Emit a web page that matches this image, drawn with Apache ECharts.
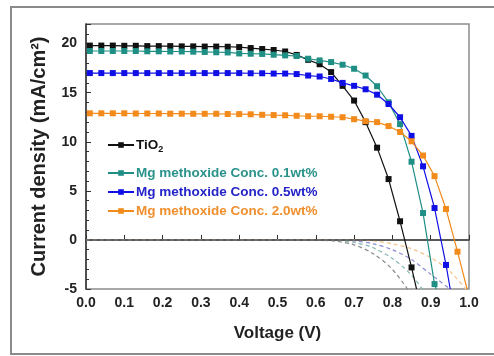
<!DOCTYPE html>
<html>
<head>
<meta charset="utf-8">
<script src="https://cdn.jsdelivr.net/npm/echarts@6/dist/echarts.min.js"></script>
<style>
    html, body {margin: 0; padding: 0; background: #fff;}
    #ivChart {width: 494px; height: 356px;}
</style>
</head>
<body>
<div id="ivChart"></div>
<script>
// voltage steps of the marked points (V)
var volts = [0.01, 0.04, 0.07, 0.10, 0.13, 0.16, 0.19, 0.22, 0.25, 0.28, 0.31, 0.34, 0.37, 0.40, 0.43,
    0.46, 0.49, 0.52, 0.55, 0.58, 0.61, 0.64, 0.67, 0.70, 0.73, 0.76, 0.79, 0.82, 0.85, 0.88, 0.91, 0.94, 0.97];

// light current density (mA/cm2) read at those voltages
var tio2 = [19.8, 19.8, 19.8, 19.78, 19.78, 19.75, 19.75, 19.75, 19.72, 19.72, 19.7, 19.7, 19.68, 19.65, 19.55,
    19.45, 19.35, 19.2, 18.85, 18.35, 17.9, 17.1, 15.7, 14.2, 12.0, 9.4, 6.2, 1.9, -2.8];
var mg01 = [19.25, 19.25, 19.25, 19.25, 19.25, 19.22, 19.22, 19.2, 19.2, 19.18, 19.15, 19.12, 19.1, 19.0, 18.97,
    18.95, 18.87, 18.8, 18.74, 18.46, 18.29, 18.12, 17.85, 17.44, 16.75, 15.66, 14.02, 11.8, 7.97, 2.74, -4.5];
var mg05 = [17.0, 17.0, 17.0, 17.0, 17.0, 17.0, 17.0, 17.0, 17.0, 17.0, 17.0, 17.0, 17.0, 17.0, 16.98,
    16.98, 16.95, 16.95, 16.9, 16.75, 16.65, 16.4, 16.0, 15.7, 15.35, 14.8, 13.85, 12.5, 10.6, 7.5, 3.25, -2.55];
var mg20 = [12.9, 12.9, 12.9, 12.9, 12.88, 12.88, 12.88, 12.86, 12.86, 12.85, 12.85, 12.85, 12.83, 12.82, 12.8,
    12.75, 12.72, 12.7, 12.65, 12.6, 12.6, 12.55, 12.5, 12.3, 12.1, 12.0, 11.6, 11.0, 10.05, 8.6, 6.5, 3.15, -1.2];
// where each curve leaves the plot at the bottom
var endPts = [[0.863, -5], [0.914, -5], [0.951, -5], [0.995, -5]];

// dark curves (dashed)
var darkV = [0.0, 0.55, 0.60, 0.65, 0.70, 0.75, 0.80, 0.85, 0.90, 0.95, 1.0];
var darkTio2 = [0, 0, -0.02, -0.12, -0.5, -1.4, -3.0, -5.6];
var darkMg01 = [0, 0, 0, -0.05, -0.25, -0.8, -1.9, -3.6, -6.2];
var darkMg05 = [0, 0, 0, 0, -0.1, -0.4, -1.0, -2.0, -3.5, -5.0];
var darkMg20 = [0, 0, 0, 0, 0, -0.1, -0.4, -0.9, -1.8, -3.2, -5.4];

var names = ['TiO2', 'Mg methoxide Conc. 0.1wt%', 'Mg methoxide Conc. 0.5wt%', 'Mg methoxide Conc. 2.0wt%'];
var colors = ['#111111', '#1f8f86', '#1010e6', '#f38a1c'];
var textColors = ['#111111', '#2a928a', '#2424c8', '#ef8f2e'];
var darkColors = ['#8a8a8a', '#86b7b2', '#8c8cd2', '#f3c48c'];
var legendTops = [140, 168, 187, 206];

function pairs(xs, ys, end) {
    var out = [];
    for (var i = 0; i < ys.length; i++) {
        out.push([xs[i], ys[i]]);
    }
    if (end) {
        out.push({value: end, symbol: 'none'});
    }
    return out;
}

var lightSets = [tio2, mg01, mg05, mg20];
var darkSets = [darkTio2, darkMg01, darkMg05, darkMg20];
var series = [];
var legends = [];

for (var k = 0; k < 4; k++) {
    series.push({
        name: names[k],
        type: 'line',
        data: pairs(volts, lightSets[k], endPts[k]),
        symbol: 'rect',
        symbolSize: 6,
        showAllSymbol: true,
        z: 5 + k,
        color: colors[k],
        lineStyle: {width: 1.2, color: colors[k]},
        itemStyle: {color: colors[k]}
    });
    series.push({
        name: 'dark' + k,
        type: 'line',
        data: pairs(darkV, darkSets[k]),
        symbol: 'none',
        smooth: 0.3,
        z: 2,
        lineStyle: {width: 1.2, type: [4, 3], color: darkColors[k]}
    });
    legends.push({
        left: 102,
        top: legendTops[k] - 7,
        itemWidth: 26,
        itemHeight: 7,
        itemGap: 0,
        selectedMode: false,
        data: [{name: names[k], textStyle: {color: textColors[k]}}],
        formatter: function (name) {
            return name === 'TiO2' ? 'TiO{s|2}' : name;
        },
        textStyle: {
            fontFamily: 'Liberation Sans',
            fontWeight: 'bold',
            fontSize: 13.5,
            padding: [0, 0, 0, -3],
            rich: {
                s: {fontSize: 9, fontWeight: 'bold', color: '#111', padding: [9, 0, 0, 0]}
            }
        }
    });
}

// zero line
series.push({
    name: 'zero',
    type: 'line',
    data: [],
    silent: true,
    markLine: {
        symbol: 'none',
        silent: true,
        label: {show: false},
        lineStyle: {color: '#555', width: 1.5, type: 'solid'},
        data: [{yAxis: 0}]
    }
});

var ivChart = echarts.init(document.getElementById('ivChart'), null, {renderer: 'canvas'});
var option = {
    animation: false,
    backgroundColor: '#fff',
    graphic: [{
        type: 'rect',
        shape: {x: 11, y: 7, width: 500, height: 347},
        style: {fill: 'none', stroke: '#8a8a8a', lineWidth: 2},
        silent: true
    }],
    legend: legends,
    grid: {
        left: 86,
        top: 24,
        right: 25,
        bottom: 67,
        show: true,
        borderColor: '#8c8c8c',
        borderWidth: 1.5
    },
    xAxis: {
        type: 'value',
        min: 0,
        max: 1,
        interval: 0.1,
        name: 'Voltage (V)',
        nameLocation: 'middle',
        nameGap: 36,
        nameTextStyle: {fontFamily: 'Liberation Sans', fontWeight: 'bold', fontSize: 17, color: '#222'},
        axisLine: {lineStyle: {color: '#333', width: 1.5}},
        axisTick: {inside: true, length: 5, lineStyle: {color: '#333'}},
        splitLine: {show: false},
        axisLabel: {
            fontFamily: 'Liberation Sans',
            fontWeight: 'bold',
            fontSize: 14,
            color: '#222',
            margin: 7,
            formatter: function (v) {
                return v.toFixed(1);
            }
        }
    },
    yAxis: {
        type: 'value',
        min: -5,
        max: 22,
        interval: 5,
        name: 'Current density (mA/cm²)',
        nameLocation: 'middle',
        nameGap: 37,
        nameTextStyle: {fontFamily: 'Liberation Sans', fontWeight: 'bold', fontSize: 20, color: '#222'},
        axisLine: {show: true, lineStyle: {color: '#333', width: 1.5}},
        axisTick: {inside: true, length: 5, lineStyle: {color: '#333'}},
        minorTick: {show: true, splitNumber: 5, length: 3, lineStyle: {color: '#333'}},
        splitLine: {show: false},
        axisLabel: {
            fontFamily: 'Liberation Sans',
            fontWeight: 'bold',
            fontSize: 14,
            color: '#222',
            margin: 9,
            showMaxLabel: false,
            formatter: function (v) {
                return v % 5 === 0 ? String(v) : '';
            }
        }
    },
    series: series
};
ivChart.setOption(option, true);
</script>
</body>
</html>
